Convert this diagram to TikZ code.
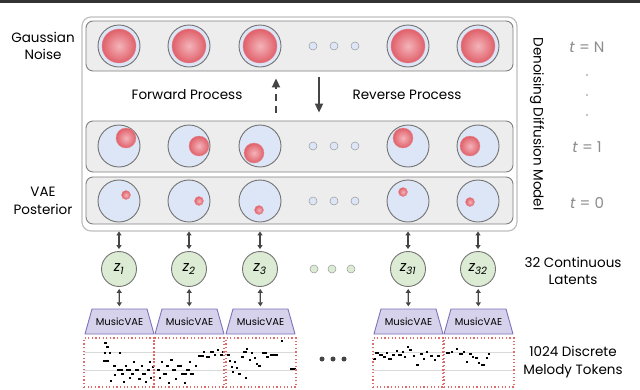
\documentclass[tikz,border=0pt]{standalone}
\usepackage{fontspec}
\setmainfont{Poppins}
\usetikzlibrary{arrows.meta}

\definecolor{rowfill}{HTML}{EDEDED}
\definecolor{cellblue}{HTML}{DCE6F6}
\definecolor{redin}{HTML}{F4B4BA}
\definecolor{redout}{HTML}{E0606A}
\definecolor{reddeep}{HTML}{D9535E}
\definecolor{latgreen}{HTML}{DCEBD4}
\definecolor{vaefill}{HTML}{D6D2EC}
\definecolor{vaeedge}{HTML}{7D72B9}
\definecolor{arrowgray}{HTML}{454545}
\definecolor{rolledge}{HTML}{E06A6A}

\begin{document}
\begin{tikzpicture}[x=1pt,y=-1pt,
  lab/.style={font=\fontsize{13.5}{17.5}\selectfont, align=center, text=black},
  tlab/.style={font=\fontsize{15}{16}\selectfont, text=black!45},
  layer/.style={draw=black!50, line width=0.9pt, fill=rowfill, rounded corners=7pt, minimum width=427pt, minimum height=#1, inner sep=0},
  cell/.style={circle, draw=black!55, line width=0.9pt, fill=cellblue, minimum size=42pt, inner sep=0},
  noise/.style={circle, draw=reddeep!70, line width=0.4pt, inner color=redin, outer color=redout, minimum size=#1, inner sep=0},
  gap/.style={circle, draw=black!40, line width=0.5pt, fill=#1, minimum size=8pt, inner sep=0},
  latent/.style={circle, draw=black!55, line width=0.9pt, fill=latgreen, minimum size=35pt, inner sep=0, font=\fontsize{14.5}{15}\selectfont},
  vaebox/.style={draw=vaeedge, fill=vaefill, line width=0.9pt, line join=round},
  vae/.style={minimum width=56pt, minimum height=25pt, inner sep=0, font=\fontsize{10}{11}\selectfont},
  proc/.style={-{Triangle[length=9pt,width=8pt]}, line width=2pt, draw=arrowgray},
  link/.style={{Triangle[length=4pt,width=5pt]}-{Triangle[length=4pt,width=5pt]}, line width=1.2pt, draw=arrowgray},
  roll/.style={draw=rolledge, dash pattern=on 1.2pt off 2.4pt, line width=1.1pt, minimum width=70pt, minimum height=49pt, inner sep=0},
  note/.style={line width=2.2pt}
]
\useasboundingbox (0,0) rectangle (640,389);
\fill[black!80] (0,0) rectangle (640,3);

% diffusion model frame
\node[draw=black!25, line width=1.2pt, rounded corners=9pt, minimum width=435pt, minimum height=214pt, inner sep=0] (ddm) at (299.5,124) {};
\node[layer=50pt] (rowN) at (299.5,46) {};
\node[layer=51pt] (rowA) at (299.5,146.5) {};
\node[layer=47pt] (rowO) at (299.5,200.5) {};

% columns: noise, t=1, t=0
\foreach \i/\x/\ax/\ay/\bx/\by in {1/119/7/-8/7/-6, 2/189/10/0/10/0, 3/260/-6/7/-1/9, 4/408/-5/-8/-5/-9, 5/478/-8/0/-8/1}{
  \node[cell] (n\i) at (\x,46) {};
  \node[noise=34pt] at (n\i) {};
  \node[cell] (s\i) at (\x,146) {};
  \node[noise=20pt] at (\x+\ax,146+\ay) {};
  \node[cell] (p\i) at (\x,201) {};
  \node[noise=9pt] at (\x+\bx,201+\by) {};
}
\foreach \x in {313,334,355}{
  \node[gap=cellblue] at (\x,46) {};
  \node[gap=cellblue] at (\x,146) {};
  \node[gap=cellblue] at (\x,201) {};
}

% forward / reverse
\coordinate (fwd) at (276,0);
\coordinate (rev) at (319,0);
\draw[proc, dash pattern=on 7pt off 5pt, shorten <=8pt, shorten >=7pt] (rowA.north -| fwd) -- (rowN.south -| fwd);
\draw[proc, shorten <=6pt, shorten >=8pt] (rowN.south -| rev) -- (rowA.north -| rev);
\node[lab] (fp) at (187,95) {Forward Process};
\node[lab] (rp) at (407,95) {Reverse Process};

% side labels
\node[lab] (gauss) at (43,46) {Gaussian\\Noise};
\node[lab] (post) at (43,201) {VAE\\Posterior};
\node[lab, rotate=-90] (ddmlab) at (537,124) {Denoising Diffusion Model};
\node[tlab] (tN) at (587,47) {\textit{t} = N};
\node[tlab] (t1) at (587,147) {\textit{t} = 1};
\node[tlab] (t0) at (587,203) {\textit{t} = 0};
\foreach \y in {75,95,115}
  \fill[black!45] (587,\y) circle (0.8);

% latents and decoders
\foreach \i/\x/\s in {1/119/1, 2/189/2, 3/260/3, 4/408/31, 5/478/32}{
  \node[latent] (z\i) at (\x,269) {\textit{z}\textsubscript{\textit{\s}}};
  \draw[vaebox] (\x-34,334) -- (\x-27,309) -- (\x+28,309) -- (\x+35,334) -- cycle;
  \node[vae] (vae\i) at (\x+0.5,321.5) {MusicVAE};
  \draw[link, shorten <=9pt, shorten >=2pt] (p\i) -- (z\i);
  \draw[link, shorten <=2pt, shorten >=2.5pt] (z\i) -- (vae\i);
}
\foreach \x in {314,332,351}
  \node[gap=latgreen] at (\x,269) {};
\node[lab] (lat) at (573,271) {32 Continuous\\Latents};

% melody tokens
\foreach \y in {352,370}{
  \draw[black!15, line width=1pt] (84,\y) -- (296,\y);
  \draw[black!15, line width=1pt] (373,\y) -- (514,\y);
}
\foreach \x/\y/\l in {104/343/3,106/347/3,104/353/2,109/353/2,103/361/6,119/353/2,113/366/3,117/370/6,121/374/3,125/366/2,126/370/5,129/378/2,131/374/3,133/362/2,135/370/4,138/379/3,141/366/2,142/374/4,145/382/2,147/370/3,149/362/2,150/378/2,152/367/2,110/381/2,114/375/2,123/382/2,
  157/370/3,159/378/2,161/362/2,163/374/4,166/366/3,168/383/2,170/360/3,172/370/4,175/379/2,177/366/5,181/374/6,184/383/2,186/370/4,189/362/2,190/374/4,195/366/2,198/356/6,203/352/2,206/357/4,210/352/4,214/355/2,217/350/2,220/355/3,222/352/2,
  227/355/3,229/361/2,231/367/2,232/372/2,234/362/2,236/368/2,238/374/3,241/357/3,243/352/4,246/349/2,249/360/2,251/353/2,254/358/2,256/364/2,258/366/3,262/353/5,266/357/3,270/355/8,281/341/2,290/369/6,245/378/2,
  373/359/3,375/353/4,379/355/4,383/357/3,386/353/2,388/359/4,392/355/3,396/351/2,398/355/4,402/352/2,404/357/2,407/347/2,409/350/3,413/356/2,416/365/3,420/354/3,423/359/2,426/352/2,430/356/3,434/360/2,437/356/3,
  446/353/4,451/352/2,456/349/2,459/354/4,463/352/2,466/362/2,469/354/3,472/357/2,475/358/3,478/363/2,481/365/4,486/358/2,488/354/2}
  \draw[note] (\x,\y) -- ++(\l,0);
\foreach \i/\x in {1/119,2/189,3/261,4/408,5/479}
  \node[roll] (roll\i) at (\x,362.5) {};
\foreach \x in {322,333,344}
  \fill[arrowgray] (\x,359) circle (2.5);
\node[lab] (tok) at (573,362) {1024 Discrete\\Melody Tokens};
\end{tikzpicture}
\end{document}
